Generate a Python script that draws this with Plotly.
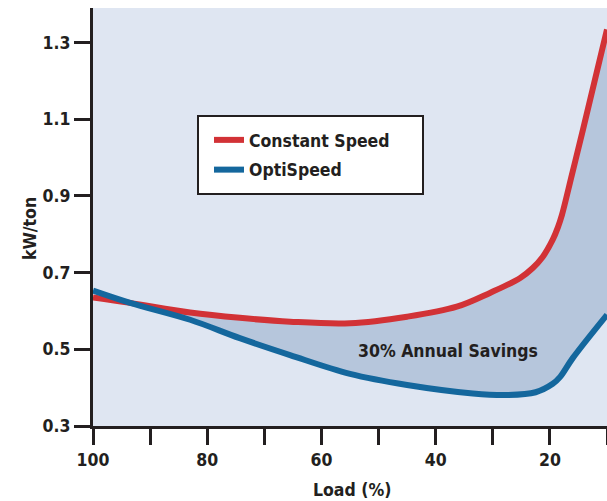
import plotly.graph_objects as go

# Data
load_cs = [100, 93.5, 83, 74.3, 65.5, 55, 45, 36.3, 30.5, 25.2, 23.0, 21.3, 19.5, 18.6, 17.9, 16.1, 14.2, 10]
kw_cs = [0.635, 0.621, 0.596, 0.582, 0.572, 0.568, 0.585, 0.611, 0.647, 0.686, 0.712, 0.740, 0.786, 0.818, 0.850, 0.958, 1.073, 1.334]

load_os = [100, 93.5, 83, 74.3, 65.5, 55, 45, 33.5, 27.5, 22.5, 19.5, 18.2, 16.0, 10]
kw_os = [0.653, 0.621, 0.577, 0.529, 0.485, 0.436, 0.407, 0.385, 0.381, 0.388, 0.410, 0.428, 0.477, 0.590]

x_ticks = [100, 90, 80, 70, 60, 50, 40, 30, 20, 10]
x_labels = ["100", "", "80", "", "60", "", "40", "", "20", ""]
y_ticks = [0.3, 0.5, 0.7, 0.9, 1.1, 1.3]
y_labels = ["0.3", "0.5", "0.7", "0.9", "1.1", "1.3"]

RED = "#d23236"
BLUE = "#14679d"
INK = "#231f20"
FONT = "DejaVu Sans Condensed, Liberation Sans Narrow, Arial Narrow, sans-serif"
FS = 17.5

cross = 93.5
fx_os = [x for x in load_os if x <= cross]
fy_os = [y for x, y in zip(load_os, kw_os) if x <= cross]
fx_cs = [x for x in load_cs if x <= cross]
fy_cs = [y for x, y in zip(load_cs, kw_cs) if x <= cross]

fig = go.Figure()
fig.add_trace(go.Scatter(x=fx_os, y=fy_os, mode="lines", line=dict(width=0, shape="spline"),
                         showlegend=False, hoverinfo="skip"))
fig.add_trace(go.Scatter(x=fx_cs, y=fy_cs, mode="lines", line=dict(width=0, shape="spline"),
                         fill="tonexty", fillcolor="#b6c6dc", showlegend=False, hoverinfo="skip"))
fig.add_trace(go.Scatter(x=load_cs, y=kw_cs, mode="lines", name="<b>Constant Speed</b>",
                         line=dict(color=RED, width=6, shape="spline"), legendgroup="a"))
fig.add_trace(go.Scatter(x=load_os, y=kw_os, mode="lines", name="<b>OptiSpeed</b>",
                         line=dict(color=BLUE, width=6, shape="spline"), legendgroup="b"))

# legend box
fig.add_shape(type="rect", xref="paper", yref="paper",
              x0=(198 - 93) / 514, x1=(423 - 93) / 514,
              y0=(426 - 194) / 418, y1=(426 - 116) / 418,
              fillcolor="white", line=dict(color=INK, width=2), layer="below")

fig.add_annotation(x=37.8, y=0.496, text="<b>30% Annual Savings</b>", showarrow=False,
                   font=dict(family=FONT, size=FS, color=INK))
fig.add_annotation(xref="paper", yref="paper", x=(18 - 93) / 514, y=(426 - 229) / 418,
                   text="<b>kW/ton</b>", textangle=-90, showarrow=False,
                   font=dict(family=FONT, size=FS, color=INK))
fig.add_annotation(xref="paper", yref="paper", x=(352 - 93) / 514, y=(426 - 490) / 418,
                   yanchor="middle", text="<b>Load (%)</b>", showarrow=False,
                   font=dict(family=FONT, size=FS, color=INK))

fig.update_layout(
    width=607, height=501,
    margin=dict(l=93, r=0, t=8, b=75),
    paper_bgcolor="white",
    plot_bgcolor="#dfe6f2",
    font=dict(family=FONT, size=FS, color=INK),
    showlegend=True,
    legend=dict(x=(209 - 93) / 514, y=(426 - 122) / 418, xanchor="left", yanchor="top",
                bgcolor="rgba(0,0,0,0)", borderwidth=0,
                font=dict(family=FONT, size=FS, color=INK),
                traceorder="grouped", tracegroupgap=4),
    xaxis=dict(range=[100, 10], tickvals=x_ticks, ticktext=[f"<b>{t}</b>" if t else "" for t in x_labels],
               showline=True, linecolor=INK, linewidth=3, ticks="outside", ticklen=16,
               tickwidth=3, tickcolor=INK, showgrid=False, zeroline=False, automargin=False),
    yaxis=dict(range=[0.3, 1.39], tickvals=y_ticks, ticktext=[f"<b>{t}</b>" for t in y_labels],
               showline=True, linecolor=INK, linewidth=3, ticks="outside", ticklen=16,
               tickwidth=3, tickcolor=INK, showgrid=False, zeroline=False, automargin=False),
)

# remove the page's default body margin so the figure fills the window exactly
fig.write_html("out.html", config={"displayModeBar": False},
               post_script="document.body.style.margin='0';document.body.style.overflow='hidden';")
